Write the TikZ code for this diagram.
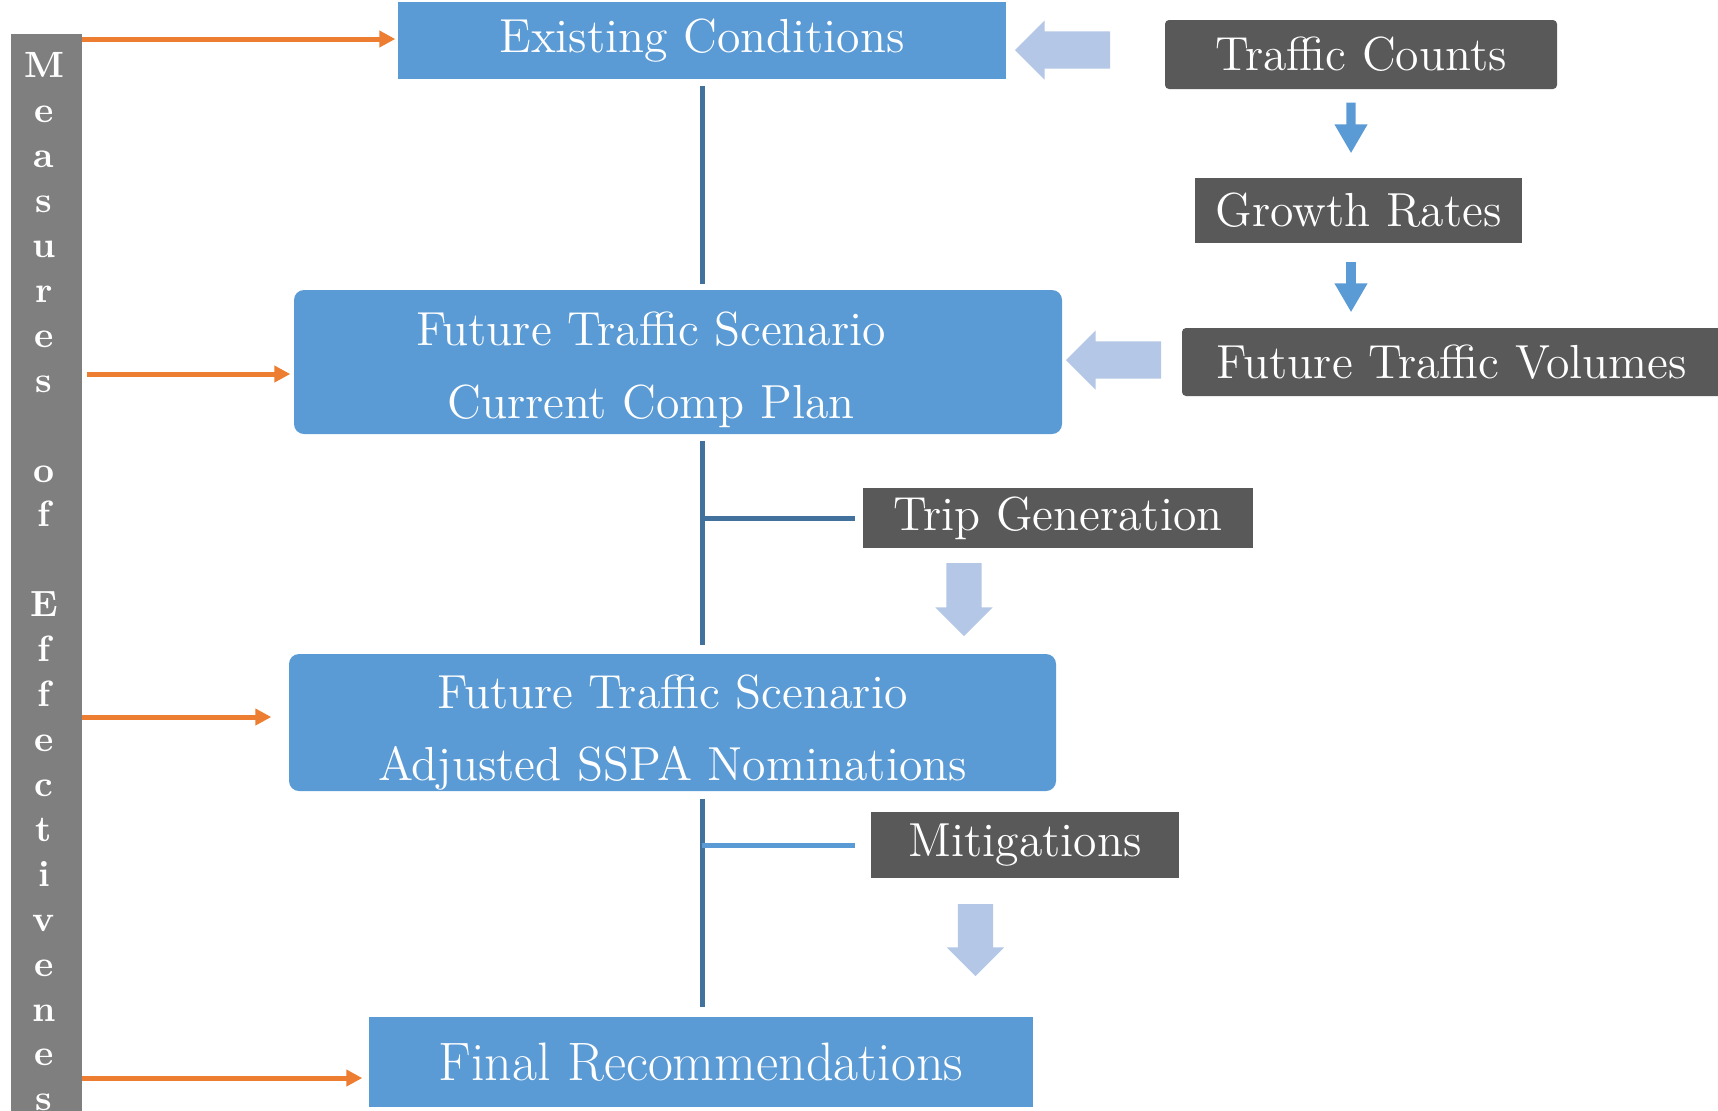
\documentclass[tikz,border=0pt]{standalone}
\usetikzlibrary{arrows.meta, shapes.arrows}
\definecolor{boxblue}{RGB}{91,155,213}
\definecolor{paleblue}{RGB}{180,199,231}
\definecolor{darkbox}{RGB}{89,89,89}
\definecolor{moegray}{RGB}{127,127,127}
\definecolor{moeorange}{RGB}{237,125,49}
\definecolor{trunkblue}{RGB}{65,113,156}
\newcommand{\boxfont}{\fontsize{13.6}{20.5}\selectfont}
\newcommand{\finalfont}{\fontsize{15.4}{20.5}\selectfont}
\newcommand{\moefont}{\fontsize{10.4}{12.78}\selectfont\bfseries}
\tikzset{
  stage/.style={fill=boxblue, text=white, inner sep=0pt, align=center, font=\boxfont},
  input/.style={fill=darkbox, text=white, inner sep=0pt, font=\boxfont},
  fat/.style={single arrow, fill=paleblue, inner xsep=0pt, inner ysep=0.18cm,
    single arrow head extend=0.11cm, minimum height=0.95cm, anchor=tip},
  moearrow/.style={draw=moeorange, line width=0.05cm, -{Triangle[length=0.16cm, width=0.16cm]}},
  growarrow/.style={draw=boxblue, line width=0.094cm, -{Triangle[length=0.29cm, width=0.31cm]}},
  trunk/.style={draw=trunkblue, line width=0.05cm},
  branch/.style={draw=boxblue, line width=0.05cm}
}

\begin{document}
\begin{tikzpicture}
        \useasboundingbox (0, 0) rectangle (17.18, -11.10);
        \clip (0, 0) rectangle (17.18, -11.10);
        \node[fill=moegray, inner sep=0pt, minimum width=0.71cm, minimum height=11.2cm,
          anchor=north] (moebar) at (0.465, -0.33) {};
        \node[text=white, font=\moefont, align=center, inner sep=0pt, anchor=north]
          (moe) at (0.44, -0.52)
          {M\\e\\a\\s\\u\\r\\e\\s\\[12.78pt]o\\f\\[12.78pt]E\\f\\f\\e\\c\\t\\i\\v\\e\\n\\e\\s\\s};
        \node[stage, minimum width=6.08cm, minimum height=0.77cm] (exist) at (7.02, -0.405)
          {Existing Conditions};
        \node[stage, rounded corners=0.1cm, minimum width=7.68cm, minimum height=1.44cm]
          (fts1) at (6.78, -3.62)
          {\rule{0pt}{14pt}Future Traffic Scenario\hspace*{0.54cm}\\Current Comp Plan\hspace*{0.54cm}};
        \node[stage, rounded corners=0.1cm, minimum width=7.67cm, minimum height=1.37cm]
          (fts2) at (6.725, -7.225)
          {\rule{0pt}{15.2pt}Future Traffic Scenario\\Adjusted SSPA Nominations};
        \node[stage, font=\finalfont, minimum width=6.64cm, minimum height=0.90cm]
          (final) at (7.01, -10.62) {Final Recommendations};
        \node[input, rounded corners=0.04cm, minimum width=3.92cm, minimum height=0.69cm]
          (tcounts) at (13.61, -0.545) {Traffic Counts};
        \node[input, minimum width=3.27cm, minimum height=0.65cm] (growth) at (13.585, -2.105)
          {Growth Rates};
        \node[input, rounded corners=0.04cm, minimum width=5.40cm, minimum height=0.68cm]
          (ftvol) at (14.52, -3.62) {Future Traffic Volumes};
        \node[input, minimum width=3.90cm, minimum height=0.60cm] (tripgen) at (10.58, -5.18)
          {Trip Generation};
        \node[input, minimum width=3.08cm, minimum height=0.66cm] (mitig) at (10.25, -8.45)
          {Mitigations};
        \node[fat, rotate=180] (tcarrow) at (10.14, -0.50) {};
        \node[fat, rotate=180] (fvarrow) at (10.65, -3.60) {};
        \node[fat, rotate=-90, minimum height=0.73cm, inner ysep=0.17cm] (tgarrow)
          at (9.64, -6.37) {};
        \node[fat, rotate=-90, minimum height=0.72cm, inner ysep=0.17cm] (mtarrow)
          at (9.755, -9.77) {};
        \coordinate (moe1) at (0.82, -0.39);
        \coordinate (moe2) at (0.87, -3.74);
        \coordinate (moe3) at (0.82, -7.17);
        \coordinate (moe4) at (0.82, -10.78);
        \draw[moearrow, shorten >=0.02cm] (moe1) -- (moe1 -| exist.west);
        \draw[moearrow, shorten >=0.03cm] (moe2) -- (moe2 -| fts1.west);
        \draw[moearrow, shorten >=0.17cm] (moe3) -- (moe3 -| fts2.west);
        \draw[moearrow, shorten >=0.06cm] (moe4) -- (moe4 -| final.west);
        \draw[trunk, shorten <=0.06cm, shorten >=0.05cm] (exist.south) -- (exist.south |- fts1.north);
        \draw[trunk, shorten <=0.06cm, shorten >=0.08cm] (exist.south |- fts1.south)
          -- (exist.south |- fts2.north);
        \draw[trunk, shorten >=0.07cm] (exist.south |- tripgen.west) -- (tripgen.west);
        \draw[trunk, shorten <=0.07cm, shorten >=0.09cm] (exist.south |- fts2.south)
          -- (exist.south |- final.north);
        \draw[branch, shorten >=0.15cm] (exist.south |- mitig.west) -- (mitig.west);
        \draw[growarrow] ([xshift=-0.1cm, yshift=-0.13cm]tcounts.south)
          -- ([xshift=-0.075cm, yshift=0.24cm]growth.north);
        \draw[growarrow] ([xshift=-0.075cm, yshift=-0.18cm]growth.south)
          -- ([xshift=-1.01cm, yshift=0.15cm]ftvol.north);
      \end{tikzpicture}
\end{document}
